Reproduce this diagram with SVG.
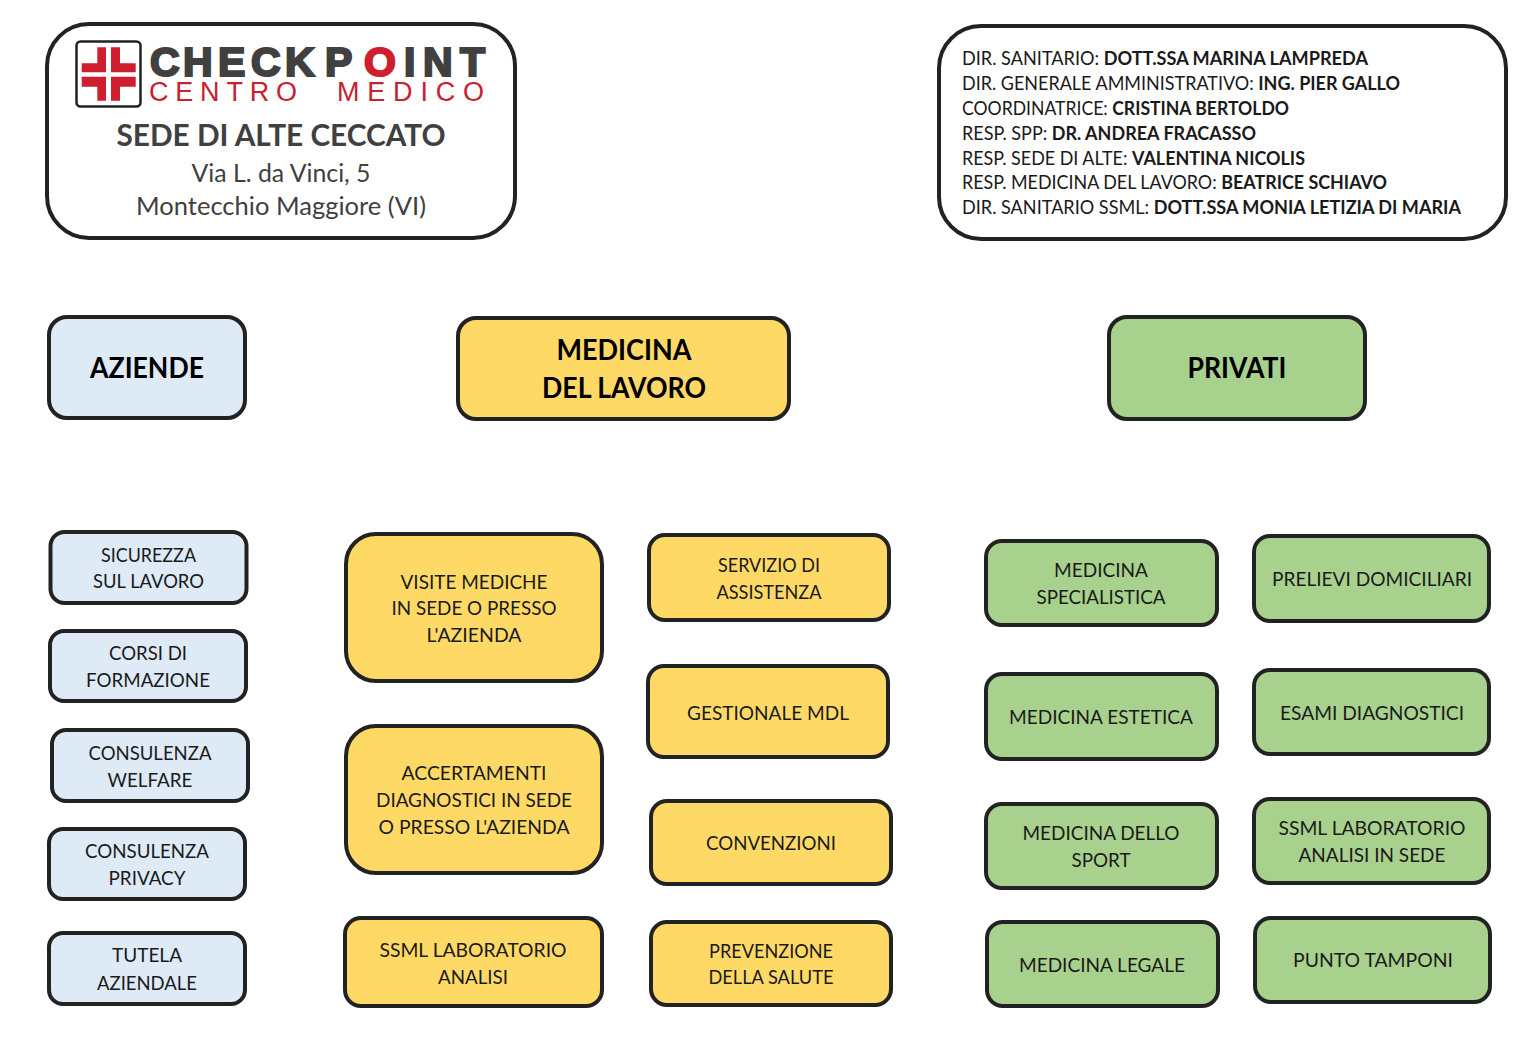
<svg xmlns="http://www.w3.org/2000/svg" width="1536" height="1064" viewBox="0 0 1536 1064">
<style>
text{font-family:"Lato","Open Sans","Liberation Sans",sans-serif;text-anchor:middle;fill:#1a1a1a}
.b{stroke:#222;stroke-width:4}
.blue{fill:#deeaf6}.yel{fill:#ffd966}.grn{fill:#a8d18d}
.s,.y{font-size:20px}.h{font-size:28px;font-weight:700;fill:#000}
.i{font-size:19px;text-anchor:start}.i tspan{font-weight:700}
.lg{font-family:"Liberation Sans",sans-serif;font-weight:700;font-size:41px;text-anchor:start;fill:#404040;stroke:#404040;stroke-width:2.200}
.lr{font-family:"Liberation Sans",sans-serif;font-size:27px;text-anchor:start;fill:#c8202f}
</style>
<rect width="1536" height="1064" fill="#fff"/>
<g id="logo-box">
<rect x="47" y="24" width="468" height="214" rx="42" fill="#fff" stroke="#222" stroke-width="4"/>
<rect x="76.500" y="41.500" width="64" height="65" rx="4" fill="#fff" stroke="#222" stroke-width="2.500"/>
<path d="M97.300 47.300H106V72.300H81.700V63.300H97.300ZM111 47.300H120V63.300H135.700V72.300H111ZM81.700 76.700H106V100.700H97.300V86.700H81.700ZM111 76.700H135.700V86.700H120V100.700H111Z" fill="#cf1f2e"/>
<text class="lg" y="76"><tspan x="150 183 218 251 285 325">CHECKP</tspan><tspan x="364" style="fill:#cf1f2e;stroke:#cf1f2e">O</tspan><tspan x="404 423 460">INT</tspan></text>
<text class="lr" x="149" y="101" textLength="148" lengthAdjust="spacing">CENTRO</text>
<text class="lr" x="337" y="101" textLength="147" lengthAdjust="spacing">MEDICO</text>
<text x="281" y="146" textLength="329" lengthAdjust="spacingAndGlyphs" style="font-size:31px;font-weight:700;fill:#404040">SEDE DI ALTE CECCATO</text>
<text x="281" y="182" textLength="179" lengthAdjust="spacingAndGlyphs" style="font-size:25px;fill:#404040">Via L. da Vinci, 5</text>
<text x="281" y="215" textLength="290" lengthAdjust="spacingAndGlyphs" style="font-size:25px;fill:#404040">Montecchio Maggiore (VI)</text>
</g>
<g id="info-box">
<rect x="939" y="26" width="567" height="213" rx="42" fill="#fff" stroke="#222" stroke-width="4"/>
<text class="i" x="962" y="65" textLength="406" lengthAdjust="spacingAndGlyphs">DIR. SANITARIO: <tspan>DOTT.SSA MARINA LAMPREDA</tspan></text>
<text class="i" x="962" y="90" textLength="438" lengthAdjust="spacingAndGlyphs">DIR. GENERALE AMMINISTRATIVO: <tspan>ING. PIER GALLO</tspan></text>
<text class="i" x="962" y="115" textLength="327" lengthAdjust="spacingAndGlyphs">COORDINATRICE: <tspan>CRISTINA BERTOLDO</tspan></text>
<text class="i" x="962" y="140" textLength="294" lengthAdjust="spacingAndGlyphs">RESP. SPP: <tspan>DR. ANDREA FRACASSO</tspan></text>
<text class="i" x="962" y="165" textLength="343" lengthAdjust="spacingAndGlyphs">RESP. SEDE DI ALTE: <tspan>VALENTINA NICOLIS</tspan></text>
<text class="i" x="962" y="189" textLength="425" lengthAdjust="spacingAndGlyphs">RESP. MEDICINA DEL LAVORO: <tspan>BEATRICE SCHIAVO</tspan></text>
<text class="i" x="962" y="214" textLength="499" lengthAdjust="spacingAndGlyphs">DIR. SANITARIO SSML: <tspan>DOTT.SSA MONIA LETIZIA DI MARIA</tspan></text>
</g>
<g id="aziende"><rect class="b blue" x="49" y="317" width="196" height="101" rx="18"/><text class="h" x="147" y="378" textLength="114" lengthAdjust="spacingAndGlyphs">AZIENDE</text></g>
<g id="medicina-lavoro"><rect class="b yel" x="458" y="318" width="331" height="101" rx="18"/><text class="h" x="624" y="360" textLength="135" lengthAdjust="spacingAndGlyphs">MEDICINA</text><text class="h" x="624" y="398" textLength="164" lengthAdjust="spacingAndGlyphs">DEL LAVORO</text></g>
<g id="privati"><rect class="b grn" x="1109" y="317" width="256" height="102" rx="18"/><text class="h" x="1237" y="378" textLength="99" lengthAdjust="spacingAndGlyphs">PRIVATI</text></g>
<g id="sicurezza"><rect class="b blue" x="50.500" y="532" width="196" height="71" rx="14"/><text class="s" x="148.500" y="562" textLength="95" lengthAdjust="spacingAndGlyphs">SICUREZZA</text><text class="s" x="148.500" y="588" textLength="111" lengthAdjust="spacingAndGlyphs">SUL LAVORO</text></g>
<g id="corsi"><rect class="b blue" x="50" y="631" width="196" height="70" rx="14"/><text class="s" x="148" y="660" textLength="78" lengthAdjust="spacingAndGlyphs">CORSI DI</text><text class="s" x="148" y="687" textLength="124" lengthAdjust="spacingAndGlyphs">FORMAZIONE</text></g>
<g id="welfare"><rect class="b blue" x="52" y="730" width="196" height="71" rx="14"/><text class="s" x="150" y="760" textLength="123" lengthAdjust="spacingAndGlyphs">CONSULENZA</text><text class="s" x="150" y="787" textLength="85" lengthAdjust="spacingAndGlyphs">WELFARE</text></g>
<g id="privacy"><rect class="b blue" x="49" y="829" width="196" height="70" rx="14"/><text class="s" x="147" y="858" textLength="124" lengthAdjust="spacingAndGlyphs">CONSULENZA</text><text class="s" x="147" y="885" textLength="77" lengthAdjust="spacingAndGlyphs">PRIVACY</text></g>
<g id="tutela"><rect class="b blue" x="49" y="933" width="196" height="71" rx="14"/><text class="s" x="147" y="962" textLength="70" lengthAdjust="spacingAndGlyphs">TUTELA</text><text class="s" x="147" y="990" textLength="100" lengthAdjust="spacingAndGlyphs">AZIENDALE</text></g>
<g id="visite"><rect class="b yel" x="346" y="534" width="256" height="147" rx="30"/><text class="y" x="474" y="589" textLength="147" lengthAdjust="spacingAndGlyphs">VISITE MEDICHE</text><text class="y" x="474" y="615" textLength="165" lengthAdjust="spacingAndGlyphs">IN SEDE O PRESSO</text><text class="y" x="474" y="642" textLength="95" lengthAdjust="spacingAndGlyphs">L'AZIENDA</text></g>
<g id="accertamenti"><rect class="b yel" x="346" y="726" width="256" height="147" rx="30"/><text class="y" x="474" y="780" textLength="145" lengthAdjust="spacingAndGlyphs">ACCERTAMENTI</text><text class="y" x="474" y="807" textLength="196" lengthAdjust="spacingAndGlyphs">DIAGNOSTICI IN SEDE</text><text class="y" x="474" y="834" textLength="191" lengthAdjust="spacingAndGlyphs">O PRESSO L'AZIENDA</text></g>
<g id="ssml-analisi"><rect class="b yel" x="345" y="918" width="257" height="88" rx="16"/><text class="y" x="473" y="957" textLength="187" lengthAdjust="spacingAndGlyphs">SSML LABORATORIO</text><text class="y" x="473" y="984" textLength="70" lengthAdjust="spacingAndGlyphs">ANALISI</text></g>
<g id="assistenza"><rect class="b yel" x="649" y="535" width="240" height="85" rx="16"/><text class="y" x="769" y="572" textLength="102" lengthAdjust="spacingAndGlyphs">SERVIZIO DI</text><text class="y" x="769" y="599" textLength="105" lengthAdjust="spacingAndGlyphs">ASSISTENZA</text></g>
<g id="gestionale"><rect class="b yel" x="648" y="666" width="240" height="91" rx="16"/><text class="y" x="768" y="720" textLength="162" lengthAdjust="spacingAndGlyphs">GESTIONALE MDL</text></g>
<g id="convenzioni"><rect class="b yel" x="651" y="801" width="240" height="83" rx="16"/><text class="y" x="771" y="850" textLength="130" lengthAdjust="spacingAndGlyphs">CONVENZIONI</text></g>
<g id="prevenzione"><rect class="b yel" x="651" y="922" width="240" height="83" rx="16"/><text class="y" x="771" y="958" textLength="124" lengthAdjust="spacingAndGlyphs">PREVENZIONE</text><text class="y" x="771" y="984" textLength="125" lengthAdjust="spacingAndGlyphs">DELLA SALUTE</text></g>
<g id="specialistica"><rect class="b grn" x="986" y="541" width="231" height="84" rx="16"/><text class="y" x="1101" y="577" textLength="94" lengthAdjust="spacingAndGlyphs">MEDICINA</text><text class="y" x="1101" y="604" textLength="129" lengthAdjust="spacingAndGlyphs">SPECIALISTICA</text></g>
<g id="estetica"><rect class="b grn" x="986" y="674" width="231" height="85" rx="16"/><text class="y" x="1101" y="724" textLength="184" lengthAdjust="spacingAndGlyphs">MEDICINA ESTETICA</text></g>
<g id="sport"><rect class="b grn" x="986" y="804" width="231" height="84" rx="16"/><text class="y" x="1101" y="840" textLength="157" lengthAdjust="spacingAndGlyphs">MEDICINA DELLO</text><text class="y" x="1101" y="867" textLength="59" lengthAdjust="spacingAndGlyphs">SPORT</text></g>
<g id="legale"><rect class="b grn" x="987" y="922" width="231" height="84" rx="16"/><text class="y" x="1102" y="972" textLength="166" lengthAdjust="spacingAndGlyphs">MEDICINA LEGALE</text></g>
<g id="prelievi"><rect class="b grn" x="1254" y="536" width="235" height="85" rx="16"/><text class="y" x="1372" y="586" textLength="200" lengthAdjust="spacingAndGlyphs">PRELIEVI DOMICILIARI</text></g>
<g id="esami"><rect class="b grn" x="1254" y="670" width="235" height="84" rx="16"/><text class="y" x="1372" y="720" textLength="184" lengthAdjust="spacingAndGlyphs">ESAMI DIAGNOSTICI</text></g>
<g id="ssml-sede"><rect class="b grn" x="1254" y="799" width="235" height="84" rx="16"/><text class="y" x="1372" y="835" textLength="187" lengthAdjust="spacingAndGlyphs">SSML LABORATORIO</text><text class="y" x="1372" y="862" textLength="147" lengthAdjust="spacingAndGlyphs">ANALISI IN SEDE</text></g>
<g id="tamponi"><rect class="b grn" x="1255" y="918" width="235" height="84" rx="16"/><text class="y" x="1373" y="967" textLength="160" lengthAdjust="spacingAndGlyphs">PUNTO TAMPONI</text></g>
<g id="connectors"></g>
</svg>
